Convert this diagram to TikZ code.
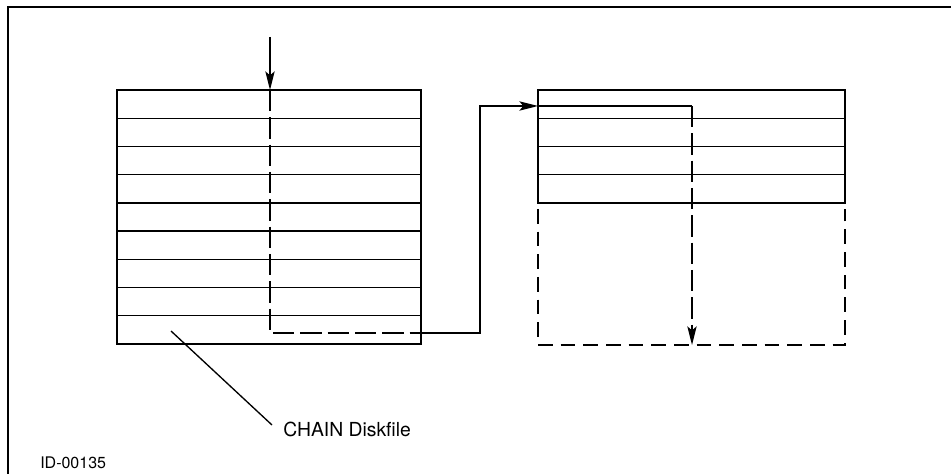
\documentclass[tikz,border=0pt]{standalone}
\usepackage{fontspec}
\setmainfont{TeX Gyre Heros}
\usetikzlibrary{arrows.meta}

\tikzset{
  boxline/.style={line width=1.8pt},
  rowline/.style={line width=1pt},
  flow/.style={line width=1pt},
  flowdash/.style={line width=1pt, dash pattern=on 16pt off 4.5pt},
  freedash/.style={line width=1.9pt, dash pattern=on 11pt off 6pt},
  tip/.style={-{Stealth[length=14pt,width=7pt,inset=3pt]}}
}

\begin{document}
\begin{tikzpicture}[x=0.75pt,y=-0.75pt,font=\fontsize{14.5}{17}\selectfont]
  \useasboundingbox (0,0) rectangle (951,474);

  % frame
  \draw[line width=1.1pt] (8,474) -- (8,7) -- (951,7);

  % left file: nine blocks
  \foreach \k in {1,...,8}
    \draw[rowline] (117,90+\k*28.22) -- (421,90+\k*28.22);
  \draw[boxline] (117,90) rectangle (421,344);

  % right file: four blocks, the rest still free
  \foreach \k in {1,...,3}
    \draw[rowline] (538,90+\k*28.22) -- (845,90+\k*28.22);
  \draw[boxline] (538,90) rectangle (845,203);
  \draw[freedash] (538,209) -- (538,345) -- (845,345) -- (845,209);

  % chain path
  \coordinate (entry) at (270,37);
  \coordinate (intop) at (270,90);
  \coordinate (inbot) at (270,333);
  \coordinate (outleft) at (421,333);
  \coordinate (bend) at (480,333);
  \coordinate (bendtop) at (480,106);
  \coordinate (inright) at (538,106);
  \coordinate (turn) at (692,106);
  \coordinate (stop) at (692,345);

  \draw[flow,tip] (entry) -- (intop);
  \draw[flowdash] (intop) -- (inbot) -- (outleft);
  \draw[flow,tip] (outleft) -- (bend) -- (bendtop) -- (inright);
  \draw[flow] (inright) -- (turn);
  \draw[flowdash,tip] (turn) -- (stop);

  % labels
  \coordinate (leadstart) at (171,331);
  \coordinate (leadend) at (272,425);
  \draw[line width=1pt] (leadstart) -- (leadend);
  \node[anchor=base west, inner sep=0pt] (chain) at (283,436) {CHAIN Diskfile};
  \node[anchor=base west, inner sep=0pt, font=\fontsize{12}{14}\selectfont] (figid) at (40,468) {ID-00135};
\end{tikzpicture}
\end{document}
